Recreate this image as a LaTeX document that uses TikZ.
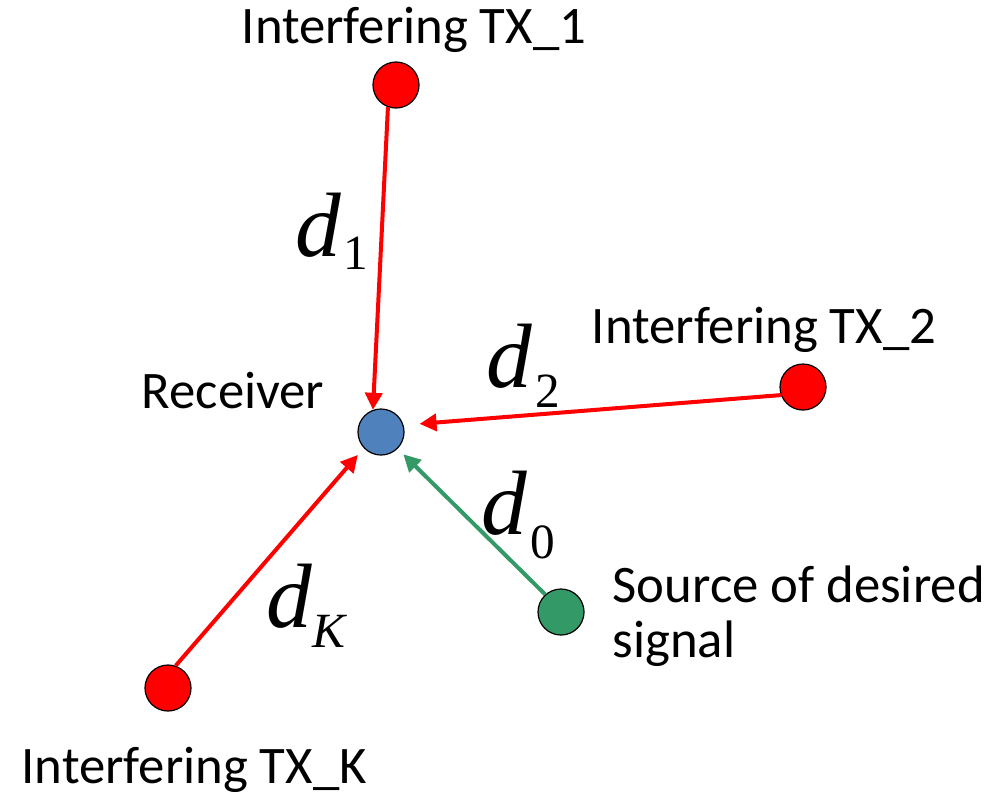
\documentclass[tikz,border=0pt]{standalone}
\usepackage{fontspec}
\setmainfont{Carlito}
\newfontfamily\tnr{Liberation Serif}
\usetikzlibrary{arrows.meta}
\definecolor{rxblue}{RGB}{79,129,189}
\definecolor{srcgreen}{RGB}{51,153,102}
\newcommand{\dlab}[3]{{\tnr\fontsize{26}{26}\selectfont\itshape d}\hspace{#3}\raisebox{-#2}{\tnr\fontsize{14}{14}\selectfont #1}}

\begin{document}
\begin{tikzpicture}[x=0.01cm,y=-0.01cm,>={Triangle[length=0.17cm,width=0.17cm]},
  station/.style={circle,draw=black,line width=0.012cm,minimum size=0.46cm,inner sep=0},
  lbl/.style={anchor=base west,inner sep=0,align=left,font=\fontsize{15}{15.4}\selectfont},
  dist/.style={anchor=base west,inner sep=0},
  link/.style={->,line width=0.04cm}]

\useasboundingbox (0,0) rectangle (1001,796);

\node[station,fill=red] (tx1) at (396,85){};
\node[station,fill=red] (tx2) at (803,387){};
\node[station,fill=red] (txk) at (168,688){};
\node[station,fill=rxblue] (rx) at (381,432){};
\node[station,fill=srcgreen] (src) at (561,612){};

\node[lbl] (ltx1) at (241,43){Interfering TX\_1};
\node[lbl] (ltx2) at (591,343){Interfering TX\_2};
\node[lbl] (lrx) at (141,408){Receiver};
\node[lbl] (lsrc) at (612,657){Source of desired\\signal};
\node[lbl] (ltxk) at (21,783){Interfering TX\_K};

\draw[link,red] (tx1.250)--(rx.110);
\draw[link,red,shorten >=0.16cm] (tx2.200)--(rx.17);
\draw[link,srcgreen,shorten >=0.08cm] (src.132)--(rx.-45);
\draw[link,red,shorten >=0.09cm] (txk.71)--(rx.223);

\node[dist] (d1) at (295,256){\dlab{1}{0.13cm}{0.02cm}};
\node[dist] (d2) at (486,387){\dlab{2}{0.2cm}{0.03cm}};
\node[dist] (d0) at (481,534){\dlab{0}{0.24cm}{0.03cm}};
\node[dist] (dk) at (266,627){\dlab{\itshape K}{0.2cm}{0cm}};

\end{tikzpicture}
\end{document}
